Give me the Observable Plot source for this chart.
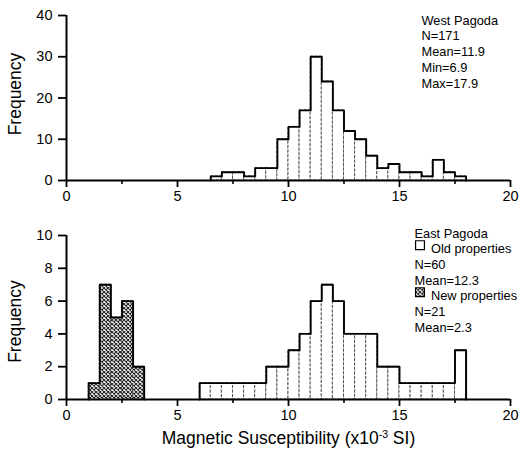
<!DOCTYPE html>
<html><head><meta charset="utf-8">
<script src="https://cdn.jsdelivr.net/npm/d3@7"></script>
<script src="https://cdn.jsdelivr.net/npm/@observablehq/plot@0.6"></script>
<style>
body{margin:0;background:#fff;}
#chart{position:relative;width:521px;height:459px;}
#chart svg{display:block;}
#chart g[aria-label$="tick"] path{stroke-width:1.8px;}
#chart g[aria-label$="axis"] .tick line{stroke-width:1.8px;}
</style></head><body><div id="chart"></div>
<script>
// ---- data ----
const binWidth = 0.5;
const westBinStarts = [6.5,7,7.5,8,8.5,9,9.5,10,10.5,11,11.5,12,12.5,13,13.5,14,14.5,15,15.5,16,16.5,17,17.5];
const westCounts    = [1,2,2,1,3,3,10,13,17,30,24,17,12,10,6,3,4,2,2,1,5,2,1];
const oldBinStarts  = [6,6.5,7,7.5,8,8.5,9,9.5,10,10.5,11,11.5,12,12.5,13,13.5,14,14.5,15,15.5,16,16.5,17,17.5];
const oldCounts     = [1,1,1,1,1,1,2,2,3,4,6,7,6,4,4,4,2,2,1,1,1,1,1,3];
const newBinStarts  = [1,1.5,2,2.5,3];
const newCounts     = [1,7,5,6,2];
const xTicks = [0,5,10,15,20];
const xMinorTicks = [2.5,7.5,12.5,17.5];
const topYTicks = [0,10,20,30,40];
const bottomYTicks = [0,2,4,6,8,10];
const westLegend = ["West Pagoda","N=171","Mean=11.9","Min=6.9","Max=17.9"];
const eastLegend = ["East Pagoda","Old properties","N=60","Mean=12.3","New properties","N=21","Mean=2.3"];
const yLabel = "Frequency";
const xLabelParts = ["Magnetic Susceptibility (x10","-3"," SI)"];

// ---- helpers ----
const FONT = "'Liberation Sans', Arial, sans-serif";
function bins(starts, counts){ return starts.map((s,i)=>({x1:s, x2:s+binWidth, count:counts[i]})); }
function outline(b){
  const last = b[b.length-1];
  return [{x:b[0].x1,y:0}, ...b.map(d=>({x:d.x1,y:d.count})), {x:last.x2,y:last.count}, {x:last.x2,y:0}];
}
function histMarks(b, fill){
  return [
    Plot.rectY(b, {x1:"x1", x2:"x2", y:"count", fill, stroke:"#444", strokeWidth:0.9, strokeDasharray:"3,1.5"}),
    Plot.line(outline(b), {x:"x", y:"y", curve:"step-after", stroke:"black", strokeWidth:1.9})
  ];
}
function frameMarks(frameH){
  return [
    Plot.ruleX(xMinorTicks, {x:d=>d, insetTop: frameH-4, dy:4, stroke:"black", strokeWidth:1.6}),
    Plot.ruleY([0], {stroke:"black", strokeWidth:2}),
    Plot.ruleX([0], {stroke:"black", strokeWidth:2})
  ];
}

// ---- top panel ----
const topH = 212, topMT = 15, topMB = 32;
const topBins = bins(westBinStarts, westCounts);
const topPlot = Plot.plot({
  width:521, height:topH, marginLeft:66, marginRight:11, marginTop:topMT, marginBottom:topMB,
  style:{fontFamily:FONT, fontSize:"14.5px", background:"white", overflow:"visible", color:"black"},
  x:{domain:[0,20], ticks:xTicks, tickSize:7, tickPadding:3, label:null},
  y:{domain:[0,40], ticks:topYTicks, tickSize:8, tickPadding:6, label:null},
  marks:[
    ...histMarks(topBins, "white"),
    ...frameMarks(topH-topMT-topMB),
    Plot.text([yLabel], {frameAnchor:"left", textAnchor:"middle", rotate:-90, dx:-51, dy:-4, fontSize:17.5}),
    ...westLegend.map((t,i)=>Plot.text([t], {frameAnchor:"top-left", dx:355, dy:i*15.8, textAnchor:"start", fontSize:12.8}))
  ]
});

// ---- bottom panel ----
const botH = 247, botMT = 23, botMB = 60;
const oldBins = bins(oldBinStarts, oldCounts);
const newBins = bins(newBinStarts, newCounts);
const swatchLines = new Set([1,4]);
const bottomPlot = Plot.plot({
  width:521, height:botH, marginLeft:66, marginRight:11, marginTop:botMT, marginBottom:botMB,
  style:{fontFamily:FONT, fontSize:"14.5px", background:"white", overflow:"visible", color:"black"},
  x:{domain:[0,20], ticks:xTicks, tickSize:7, tickPadding:3, label:null},
  y:{domain:[0,10], ticks:bottomYTicks, tickSize:8, tickPadding:6, label:null},
  marks:[
    ...histMarks(oldBins, "white"),
    ...histMarks(newBins, "url(#hatch)"),
    ...frameMarks(botH-botMT-botMB),
    Plot.text([yLabel], {frameAnchor:"left", textAnchor:"middle", rotate:-90, dx:-51, dy:4, fontSize:17.5}),
    Plot.text([xLabelParts.join("")], {frameAnchor:"bottom", textAnchor:"middle", dy:44, fontSize:17.5}),
    ...eastLegend.map((t,i)=>Plot.text([t], {frameAnchor:"top-left", dx: swatchLines.has(i) ? 364.5 : 348, dy:-7+i*15.67, textAnchor:"start", fontSize:12.8})),
    Plot.dot([eastLegend[1]], {frameAnchor:"top-left", dx:353.5, dy:-6+15.67, symbol:"square", r:5, fill:"white", stroke:"black", strokeWidth:1.2}),
    Plot.dot([eastLegend[4]], {frameAnchor:"top-left", dx:353.5, dy:-6+4*15.67, symbol:"square", r:5, fill:"url(#hatch)", stroke:"black", strokeWidth:1.2})
  ]
});

// hatch pattern definition
const defs = d3.select(bottomPlot).insert("defs", ":first-child");
const pat = defs.append("pattern").attr("id","hatch").attr("patternUnits","userSpaceOnUse").attr("width",4).attr("height",4);
pat.append("rect").attr("width",4).attr("height",4).attr("fill","white");
pat.append("path").attr("d","M-1,-1L5,5M5,-1L-1,5").attr("stroke","#222").attr("stroke-width",1.1);

// superscript in axis title
d3.select(bottomPlot).selectAll("text").filter(function(){ return this.textContent === xLabelParts.join(""); })
  .each(function(){
    const t = d3.select(this);
    t.text(null);
    t.append("tspan").text(xLabelParts[0]);
    t.append("tspan").attr("baseline-shift","super").attr("font-size","0.6em").text(xLabelParts[1]);
    t.append("tspan").text(xLabelParts[2]);
  });

const chart = document.getElementById("chart");
chart.appendChild(topPlot);
chart.appendChild(bottomPlot);
</script></body></html>
